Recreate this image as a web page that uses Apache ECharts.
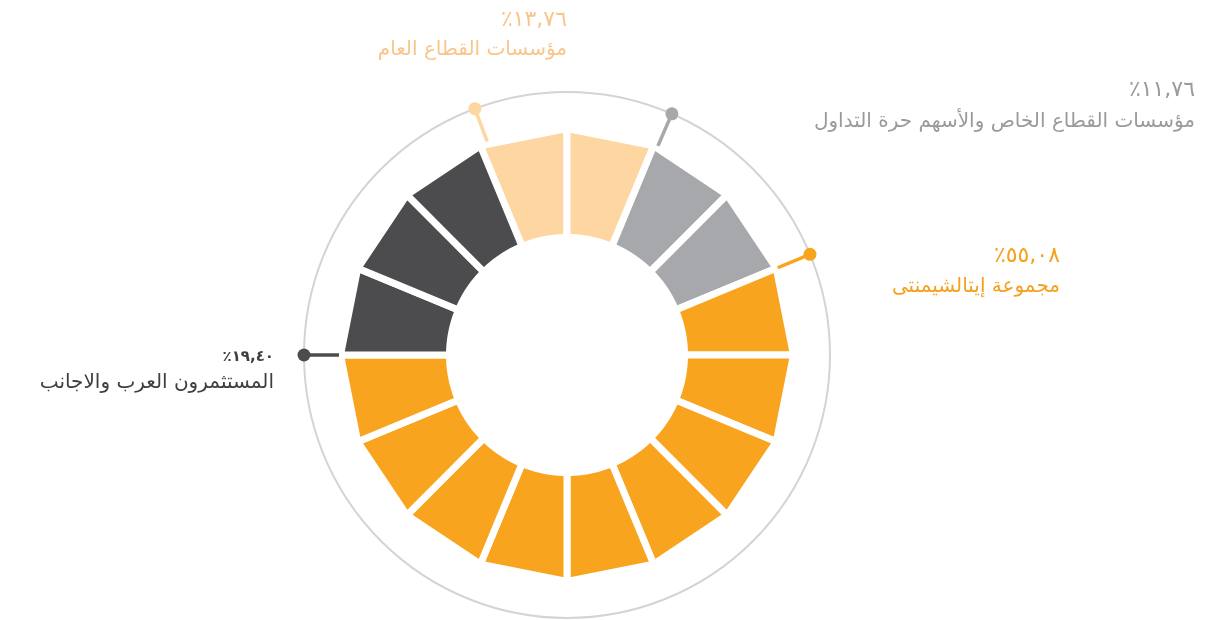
<!DOCTYPE html>
<html>
<head>
<meta charset="utf-8">
<script src="https://cdn.jsdelivr.net/npm/echarts@6/dist/echarts.min.js"></script>
<style>
  html, body { margin: 0; padding: 0; background: #fff; }
  #chart { width: 1228px; height: 620px; }
</style>
</head>
<body>
<div id="chart"></div>
<script>
// groups, clockwise from the top
const groupNames = [
  'مؤسسات القطاع العام',
  'مؤسسات القطاع الخاص والأسهم حرة التداول',
  'مجموعة إيتالشيمنتى',
  'المستثمرون العرب والاجانب'
]
const groupShares = ['٪١٣,٧٦', '٪١١,٧٦', '٪٥٥,٠٨', '٪١٩,٤٠']
const groupSegments = [2, 2, 9, 3]
const groupColors = ['#fed6a1', '#a7a8ab', '#f8a41f', '#4c4c4e']
const textColors = ['#f9c58b', '#9a9a9c', '#f5a11d', '#3f3f41']

const SEG_COUNT = 16
const STEP = 360 / SEG_COUNT
const R_OUT = 226.5
const R_IN = 117.5
const R_RING = 263

// label anchors (right edge) and leader offsets, layout only
const labelPos = [
  { x: 567, pctY: 20, nameY: 50, pctSize: 22, pctWeight: 'normal', lead: 2 },
  { x: 1195, pctY: 90, nameY: 122, pctSize: 22, pctWeight: 'normal', lead: 1 },
  { x: 1060, pctY: 256, nameY: 287, pctSize: 22, pctWeight: 'normal', lead: 0 },
  { x: 274, pctY: 357, nameY: 383, pctSize: 15, pctWeight: 'bold', lead: 0 }
]

// build the segments: [segment index, group index]
const segments = []
let pos = SEG_COUNT - 1
groupSegments.forEach((n, g) => {
  for (let i = 0; i < n; i++) {
    segments.push([pos % SEG_COUNT, g])
    pos++
  }
})
// leader line angle = start of each group
const leaders = []
let start = SEG_COUNT - 1
groupSegments.forEach((n, g) => {
  leaders.push([(start % SEG_COUNT) * STEP + labelPos[g].lead, g])
  start += n
})

const chart = echarts.init(document.getElementById('chart'))

const graphics = []
groupNames.forEach((name, g) => {
  const p = labelPos[g]
  graphics.push({
    type: 'text', x: p.x, y: p.pctY,
    style: {
      text: groupShares[g], fill: textColors[g], align: 'right', verticalAlign: 'middle',
      font: p.pctWeight + ' ' + p.pctSize + 'px "DejaVu Sans", sans-serif'
    }
  })
  graphics.push({
    type: 'text', x: p.x, y: p.nameY,
    style: {
      text: name, fill: textColors[g], align: 'right', verticalAlign: 'middle',
      font: '20px "DejaVu Sans", sans-serif'
    }
  })
})

const option = {
  animation: false,
  polar: { center: [567, 355], radius: R_RING },
  angleAxis: {
    type: 'value', min: 0, max: 360, startAngle: 90, clockwise: true,
    axisLine: { show: true, lineStyle: { color: '#d4d4d4', width: 2 } },
    axisTick: { show: false },
    axisLabel: { show: false },
    splitLine: { show: false }
  },
  radiusAxis: { type: 'value', min: 0, max: R_RING, show: false },
  graphic: graphics,
  series: [
    {
      type: 'custom',
      coordinateSystem: 'polar',
      data: segments,
      renderItem: function (params, api) {
        const a0 = api.value(0) * STEP
        const a1 = a0 + STEP
        const pts = [api.coord([R_OUT, a0]), api.coord([R_OUT, a1])]
        // inner edge is an arc
        for (let i = 0; i <= 12; i++) {
          pts.push(api.coord([R_IN, a1 - (STEP * i) / 12]))
        }
        return {
          type: 'polygon',
          shape: { points: pts },
          style: { fill: groupColors[api.value(1)], stroke: '#fff', lineWidth: 7, lineJoin: 'miter' }
        }
      }
    },
    {
      type: 'custom',
      coordinateSystem: 'polar',
      data: leaders,
      renderItem: function (params, api) {
        const ang = api.value(0)
        const color = groupColors[api.value(1)]
        const p0 = api.coord([R_OUT + 1.5, ang])
        const p1 = api.coord([R_RING, ang])
        return {
          type: 'group',
          children: [
            {
              type: 'line',
              shape: { x1: p0[0], y1: p0[1], x2: p1[0], y2: p1[1] },
              style: { stroke: color, lineWidth: 3.5 }
            },
            {
              type: 'circle',
              shape: { cx: p1[0], cy: p1[1], r: 6.5 },
              style: { fill: color }
            }
          ]
        }
      }
    }
  ]
}

chart.setOption(option)
</script>
</body>
</html>
